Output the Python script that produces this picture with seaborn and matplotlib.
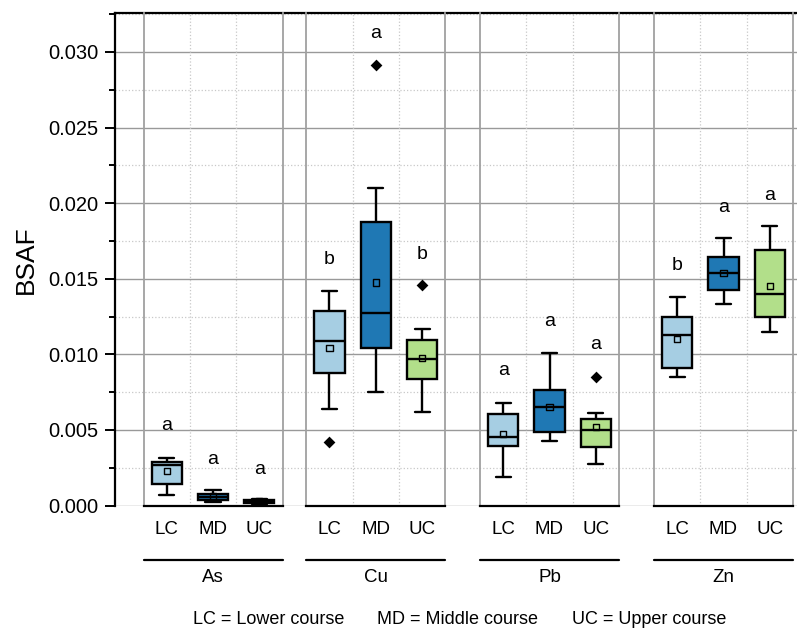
import matplotlib
matplotlib.use('Agg')
import matplotlib.pyplot as plt
import numpy as np
import pandas as pd
import seaborn as sns

# Data
elements = ['As', 'Cu', 'Pb', 'Zn']
courses = ['LC', 'MD', 'UC']
colors = ['#a6cee3', '#1f78b4', '#b2df8a']

# five-number summaries per course: whisker low, Q1, median, Q3, whisker high
as_stats = [[0.00071, 0.00140, 0.00270, 0.00290, 0.00314],
            [0.00025, 0.00038, 0.00058, 0.00078, 0.00100],
            [0.00008, 0.00015, 0.00028, 0.00038, 0.00042]]
cu_stats = [[0.00638, 0.00874, 0.01090, 0.01289, 0.01419],
            [0.00753, 0.01044, 0.01273, 0.01877, 0.02098],
            [0.00617, 0.00835, 0.00971, 0.01095, 0.01168]]
pb_stats = [[0.00187, 0.00396, 0.00451, 0.00603, 0.00678],
            [0.00429, 0.00488, 0.00650, 0.00764, 0.01007],
            [0.00275, 0.00389, 0.00500, 0.00570, 0.00610]]
zn_stats = [[0.00848, 0.00908, 0.01128, 0.01249, 0.01377],
            [0.01333, 0.01426, 0.01540, 0.01642, 0.01768],
            [0.01146, 0.01249, 0.01399, 0.01690, 0.01849]]

as_means = [0.00228, 0.00060, 0.00027]
cu_means = [0.01044, 0.01476, 0.00976]
pb_means = [0.00471, 0.00652, 0.00521]
zn_means = [0.01100, 0.01540, 0.01454]

# outliers (course, value)
cu_outliers = [('LC', 0.00418), ('MD', 0.02914), ('UC', 0.01459)]
pb_outliers = [('UC', 0.00852)]

# significance letters and their heights
as_letters = ['a', 'a', 'a']
cu_letters = ['b', 'a', 'b']
pb_letters = ['a', 'a', 'a']
zn_letters = ['b', 'a', 'a']
as_letter_y = [0.00526, 0.00306, 0.00241]
cu_letter_y = [0.01625, 0.03124, 0.01662]
pb_letter_y = [0.00890, 0.01220, 0.01062]
zn_letter_y = [0.01586, 0.01973, 0.02054]

stats = {'As': as_stats, 'Cu': cu_stats, 'Pb': pb_stats, 'Zn': zn_stats}
means = {'As': as_means, 'Cu': cu_means, 'Pb': pb_means, 'Zn': zn_means}
outliers = {'As': [], 'Cu': cu_outliers, 'Pb': pb_outliers, 'Zn': []}
letters = {'As': as_letters, 'Cu': cu_letters, 'Pb': pb_letters, 'Zn': zn_letters}
letter_y = {'As': as_letter_y, 'Cu': cu_letter_y, 'Pb': pb_letter_y, 'Zn': zn_letter_y}

rows = []
for el in elements:
  for c, vals in zip(courses, stats[el]):
    for v in vals:
      rows.append({'element': el, 'course': c, 'value': v})
df = pd.DataFrame(rows)

sns.set_style('white')
plt.rcParams['font.family'] = ['Liberation Sans', 'DejaVu Sans']
plt.rcParams['font.size'] = 13.5
plt.rcParams['text.color'] = 'black'
plt.rcParams['axes.labelcolor'] = 'black'
plt.rcParams['xtick.color'] = 'black'
plt.rcParams['ytick.color'] = 'black'

W, H = 797, 633
fig = plt.figure(figsize=(W / 100, H / 100), dpi=100)

y_bot, y_top = 505.5, 13.3
ymax = 0.03256
ax_b = 1 - y_bot / H
ax_h = (y_bot - y_top) / H

# background axes: y axis, horizontal grid, top line
bg = fig.add_axes([115 / W, ax_b, (W - 115) / W, ax_h])
bg.set_ylim(0, ymax)
bg.set_xlim(0, 1)
bg.set_xticks([])
bg.set_yticks(np.arange(0, 0.0301, 0.005))
bg.set_yticks(np.arange(0.0025, 0.0326, 0.005), minor=True)
bg.set_yticklabels([f'{t:.3f}' for t in np.arange(0, 0.0301, 0.005)])
bg.grid(True, which='major', axis='y', color='#999999', lw=1.0, ls='-')
bg.grid(True, which='minor', axis='y', color='#c8c8c8', lw=0.9, ls=':')
bg.tick_params(axis='y', which='major', direction='out', length=7, width=1.4,
               left=True, labelsize=14.5, pad=5, colors='black')
bg.tick_params(axis='y', which='minor', direction='out', length=4, width=1.4, left=True)
for s in ['right', 'bottom']:
  bg.spines[s].set_visible(False)
bg.spines['left'].set_linewidth(1.6)
bg.spines['top'].set_linewidth(1.6)
bg.spines['left'].set_color('black')
bg.spines['top'].set_color('black')
bg.set_ylabel('BSAF', fontsize=19, labelpad=7)

panel_left = [143.5, 306.3, 480, 654]
panel_w = 139

for el, left in zip(elements, panel_left):
  ax = fig.add_axes([left / W, ax_b, panel_w / W, ax_h])
  ax.patch.set_alpha(0)
  sub = df[df['element'] == el]
  sns.boxplot(data=sub, x='course', y='value', hue='course', order=courses,
              hue_order=courses, palette=colors, whis=(0, 100), width=0.65,
              linewidth=1.7, linecolor='black', fliersize=0, legend=False,
              saturation=1, ax=ax)
  if outliers[el]:
    od = pd.DataFrame(outliers[el], columns=['course', 'value'])
    sns.stripplot(data=od, x='course', y='value', order=courses, jitter=False,
                  marker='D', color='black', size=6, ax=ax)
  md = pd.DataFrame({'course': courses, 'value': means[el]})
  sns.stripplot(data=md, x='course', y='value', order=courses, jitter=False,
                marker='s', color='none', edgecolor='black', linewidth=1,
                size=4.5, ax=ax, zorder=5)
  for i, (t, ty) in enumerate(zip(letters[el], letter_y[el])):
    ax.text(i, ty, t, ha='center', va='center', fontsize=14)

  ax.set_xlim(-0.5, 2.5)
  ax.set_ylim(0, ymax)
  ax.set_yticks([])
  ax.set_xlabel('')
  ax.set_ylabel('')
  ax.set_xticks([0, 1, 2])
  ax.set_xticklabels(courses)
  ax.set_xticks([0.5, 1.5], minor=True)
  ax.grid(True, which='minor', axis='x', color='#c8c8c8', lw=0.9, ls=':')
  ax.tick_params(axis='x', which='both', length=0, pad=11, labelsize=13.5)
  ax.spines['top'].set_visible(False)
  for s in ['left', 'right']:
    ax.spines[s].set_color('#a0a0a0')
    ax.spines[s].set_linewidth(1.3)
  ax.spines['bottom'].set_color('black')
  ax.spines['bottom'].set_linewidth(1.6)

  # group bracket line and element label
  yl = -(560 - y_bot) / (y_bot - y_top)
  ax.plot([0, 1], [yl, yl], transform=ax.transAxes, clip_on=False,
          color='black', lw=1.6)
  ax.text(0.5, -(577 - y_bot) / (y_bot - y_top), el, transform=ax.transAxes,
          ha='center', va='center', fontsize=13.5)

fig.text(193 / W, 1 - 619 / H, 'LC = Lower course', ha='left', va='center', fontsize=13)
fig.text(377 / W, 1 - 619 / H, 'MD = Middle course', ha='left', va='center', fontsize=13)
fig.text(572 / W, 1 - 619 / H, 'UC = Upper course', ha='left', va='center', fontsize=13)

fig.savefig('out.png', dpi=100)
